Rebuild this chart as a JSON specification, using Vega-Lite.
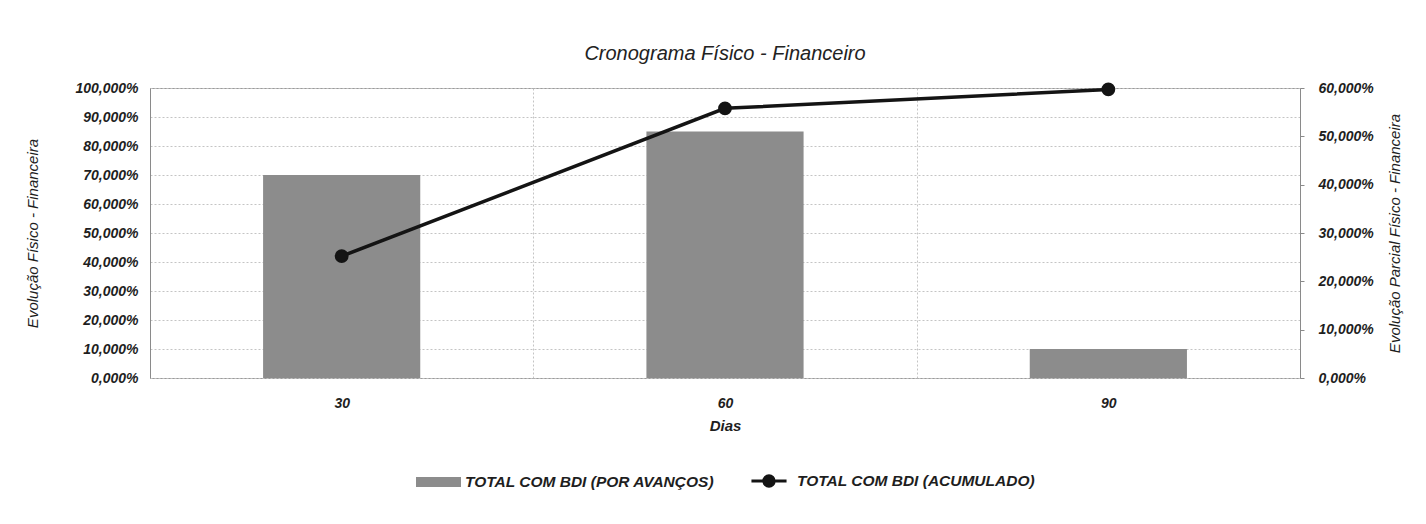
{
  "$schema": "https://vega.github.io/schema/vega-lite/v6.json",
  "width": 1150,
  "height": 290,
  "autosize": {"type": "none"},
  "padding": {"left": 150, "top": 88, "right": 126, "bottom": 146},
  "background": "white",
  "config": {
    "locale": {"number": {"decimal": ",", "thousands": ".", "grouping": [3], "currency": ["R$ ", ""]}},
    "view": {"stroke": "#9a9a9a", "strokeWidth": 1},
    "font": "Liberation Sans",
    "axis": {
      "labelFont": "Liberation Sans",
      "labelFontSize": 14,
      "labelFontWeight": "bold",
      "labelFontStyle": "italic",
      "labelColor": "#1e1e1e",
      "titleFont": "Liberation Sans",
      "titleFontSize": 15,
      "titleFontStyle": "italic",
      "titleFontWeight": "normal",
      "titleColor": "#1e1e1e",
      "domainColor": "#8a8a8a",
      "tickColor": "#8a8a8a",
      "gridColor": "#c4c4c4",
      "gridDash": [2, 2]
    },
    "legend": {
      "labelFont": "Liberation Sans",
      "labelFontSize": 15.5,
      "labelFontWeight": "bold",
      "labelFontStyle": "italic",
      "labelColor": "#1e1e1e",
      "labelLimit": 400,
      "layout": {"bottom": {"anchor": "middle", "direction": "horizontal", "margin": 30, "center": true}}
    }
  },
  "title": {
    "text": "Cronograma Físico - Financeiro",
    "font": "Liberation Sans",
    "fontSize": 20,
    "fontStyle": "italic",
    "fontWeight": "normal",
    "color": "#222222",
    "anchor": "middle",
    "offset": 16
  },
  "data": {
    "values": [
      {"dia": "30", "parcial": 0.42, "acumulado": 0.42, "s1": "TOTAL COM BDI (POR AVANÇOS)", "s2": "TOTAL COM BDI (ACUMULADO)"},
      {"dia": "60", "parcial": 0.51, "acumulado": 0.93, "s1": "TOTAL COM BDI (POR AVANÇOS)", "s2": "TOTAL COM BDI (ACUMULADO)"},
      {"dia": "90", "parcial": 0.06, "acumulado": 0.995, "s1": "TOTAL COM BDI (POR AVANÇOS)", "s2": "TOTAL COM BDI (ACUMULADO)"}
    ]
  },
  "encoding": {
    "x": {
      "field": "dia",
      "type": "ordinal",
      "scale": {"paddingInner": 0, "paddingOuter": 0},
      "axis": {
        "title": "Dias",
        "labelAngle": 0,
        "labelPadding": 18,
        "ticks": false,
        "domain": false,
        "grid": true,
        "tickBand": "extent",
        "titleFontWeight": "bold",
        "titlePadding": 8
      }
    }
  },
  "layer": [
    {
      "mark": {"type": "bar", "width": {"band": 0.41}},
      "encoding": {
        "y": {
          "field": "parcial",
          "type": "quantitative",
          "scale": {"domain": [0, 0.6]},
          "axis": {
            "orient": "right",
            "title": "Evolução Parcial  Físico - Financeira",
            "titleAngle": 270,
            "format": ".3%",
            "values": [0, 0.1, 0.2, 0.3, 0.4, 0.5, 0.6],
            "grid": false,
            "tickSize": 4,
            "labelPadding": 14,
            "titlePadding": 29
          }
        },
        "fill": {
          "field": "s1",
          "type": "nominal",
          "scale": {"range": ["#8c8c8c"]},
          "legend": {
            "title": null,
            "orient": "bottom",
            "direction": "horizontal",
            "symbolType": "M-1,-0.22H1V0.22H-1Z",
            "symbolSize": 2025,
            "symbolStrokeWidth": 0,
            "offset": 24
          }
        }
      }
    },
    {
      "mark": {"type": "line", "strokeWidth": 3.5, "point": {"filled": true, "size": 140, "fill": "#141414"}},
      "encoding": {
        "y": {
          "field": "acumulado",
          "type": "quantitative",
          "scale": {"domain": [0, 1]},
          "axis": {
            "orient": "left",
            "title": "Evolução Físico - Financeira",
            "format": ".3%",
            "values": [0, 0.1, 0.2, 0.3, 0.4, 0.5, 0.6, 0.7, 0.8, 0.9, 1.0],
            "grid": true,
            "ticks": false,
            "labelPadding": 12,
            "titlePadding": 34
          }
        },
        "stroke": {
          "field": "s2",
          "type": "nominal",
          "scale": {"range": ["#141414"]},
          "legend": {
            "title": null,
            "orient": "bottom",
            "direction": "horizontal",
            "symbolType": "M-0.78,0H0.78M0.23,0A0.23,0.23,0,1,1,-0.23,0A0.23,0.23,0,1,1,0.23,0Z",
            "symbolSize": 2025,
            "symbolStrokeWidth": 3,
            "symbolFillColor": "#141414",
            "offset": 24
          }
        }
      }
    }
  ],
  "resolve": {"scale": {"y": "independent", "fill": "independent", "stroke": "independent"}}
}
